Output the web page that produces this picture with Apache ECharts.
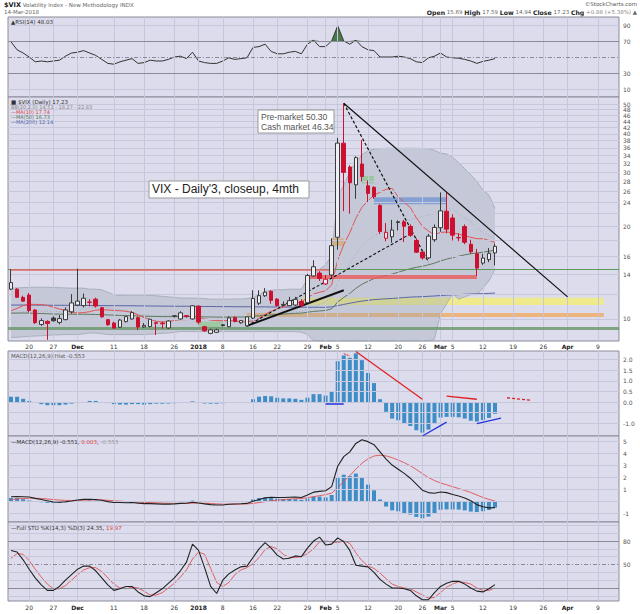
<!DOCTYPE html>
<html><head><meta charset="utf-8">
<script src="https://cdn.jsdelivr.net/npm/echarts/dist/echarts.min.js"></script>
<style>html,body{margin:0;padding:0;background:#fff}#c{width:640px;height:614px}</style>
</head><body><div id="c"></div>
<script>
const cats = ['2017-11-15','2017-11-16','2017-11-17','2017-11-20','2017-11-21','2017-11-22','2017-11-24','2017-11-27','2017-11-28','2017-11-29','2017-11-30','2017-12-01','2017-12-04','2017-12-05','2017-12-06','2017-12-07','2017-12-08','2017-12-11','2017-12-12','2017-12-13','2017-12-14','2017-12-15','2017-12-18','2017-12-19','2017-12-20','2017-12-21','2017-12-22','2017-12-26','2017-12-27','2017-12-28','2017-12-29','2018-01-02','2018-01-03','2018-01-04','2018-01-05','2018-01-08','2018-01-09','2018-01-10','2018-01-11','2018-01-12','2018-01-16','2018-01-17','2018-01-18','2018-01-19','2018-01-22','2018-01-23','2018-01-24','2018-01-25','2018-01-26','2018-01-29','2018-01-30','2018-01-31','2018-02-01','2018-02-02','2018-02-05','2018-02-06','2018-02-07','2018-02-08','2018-02-09','2018-02-12','2018-02-13','2018-02-14','2018-02-15','2018-02-16','2018-02-20','2018-02-21','2018-02-22','2018-02-23','2018-02-26','2018-02-27','2018-02-28','2018-03-01','2018-03-02','2018-03-05','2018-03-06','2018-03-07','2018-03-08','2018-03-09','2018-03-12','2018-03-13','2018-03-14','2018-03-15','2018-03-16','2018-03-19','2018-03-20','2018-03-21','2018-03-22','2018-03-23','2018-03-26','2018-03-27','2018-03-28','2018-03-29','2018-04-02','2018-04-03','2018-04-04','2018-04-05','2018-04-06','2018-04-09','2018-04-10','2018-04-11','2018-04-12'];
const tickDates = ['2017-11-20','2017-11-27','2017-12-01','2017-12-11','2017-12-18','2017-12-26','2018-01-02','2018-01-08','2018-01-16','2018-01-22','2018-01-29','2018-02-01','2018-02-05','2018-02-12','2018-02-20','2018-02-26','2018-03-01','2018-03-05','2018-03-12','2018-03-19','2018-03-26','2018-04-02','2018-04-09'];
const tickTexts = ['20','27','Dec','11','18','26','2018','8','16','22','29','Feb','5','12','20','26','Mar','5','12','19','26','Apr','9'];
const tickBold = ['Dec','2018','Feb','Mar','Apr'];

const opens = [12.5,12.5,11.75,11.96,10.7,9.6,9.82,10.07,9.75,9.95, 10.55,11.1,11.05,11.35,11.6,10.88,9.95,9.7,9.4,9.8, 10.0,10.1,9.42,9.45,9.72,9.7,9.35,10.2,10.0,10.25, 10.0,11.0,9.44,8.98,9.05,9.58,9.44,10.1,9.72,9.5, 10.07,11.25,11.9,12.3,11.6,11.15,11.05,11.1,11.4,11.3, 13.8,14.1,13.0,13.9,18.44,37.3,31.2,27.3,31.9,27.1, 26.8,23.4,18.3,18.5,20.7,20.7,20.0,18.0,16.5,15.8, 18.1,19.8,22.4,21.3,18.4,19.97,17.5,16.3,15.2,15.6, 16.4];
const highs = [14.51,12.6,11.9,12.15,10.75,10.05,9.9,10.2,10.3,10.9, 12.05,14.58,12.1,11.6,11.73,10.95,10.0,9.8,10.0,10.2, 10.6,10.2,9.7,10.0,9.8,9.8,9.9,10.3,10.6,10.3, 11.1,11.1,9.5,9.3,9.3,9.6,10.2,10.2,9.9,10.2, 12.4,12.4,12.6,12.4,11.7,11.4,11.8,11.8,11.6,14.0, 15.52,14.3,13.9,18.3,38.8,50.3,31.6,33.8,38.2,28.2, 27.0,23.6,20.5,21.0,20.9,21.0,20.3,18.3,16.6,18.9, 20.3,25.8,25.7,21.9,19.0,20.3,18.1,16.9,16.3,17.0, 17.59];
const lows = [12.4,11.7,11.4,10.5,9.63,9.5,8.56,9.8,9.6,9.9, 10.4,11.0,10.9,11.0,10.9,10.1,9.5,9.3,9.35,9.75, 9.95,9.2,9.35,9.4,8.87,9.3,9.3,10.1,9.95,10.1, 9.95,9.6,9.1,8.92,9.0,9.45,9.4,9.75,9.65,9.45, 10.0,11.1,11.8,11.2,11.0,11.0,11.0,11.0,10.9,11.3, 13.7,13.3,12.9,13.6,16.8,22.42,22.0,24.6,28.0,24.0, 24.6,18.9,17.9,17.7,19.4,17.8,18.5,16.4,15.6,15.7, 17.8,19.2,19.0,18.0,17.9,17.5,16.3,13.8,15.0,15.3, 14.94];
const closes = [13.13,11.76,11.43,10.65,9.73,9.88,9.67,9.87,10.03,10.70, 11.28,11.43,11.68,11.33,11.02,10.16,9.58,9.34,9.92,10.18, 10.49,9.42,9.53,9.98,9.68,9.65,9.85,10.25,10.47,10.18, 11.04,9.77,9.15,9.22,9.22,9.52,10.08,9.82,9.88,10.16, 11.66,11.91,12.22,11.5,11.03,11.10,11.47,11.58,11.08,13.84, 14.79,13.54,13.47,17.31,37.32,29.98,27.73,33.46,29.06,25.61, 24.97,19.26,19.13,19.46,20.60,20.02,18.72,16.49,15.80,18.59, 19.85,22.47,19.59,18.73,18.36,17.76,16.54,14.64,15.78,16.35, 17.23];

const ma10 = [10.64,10.82,11.05,11.17,11.15,11.15,11.06,10.92,10.77,10.68, 10.50,10.46,10.49,10.56,10.69,10.71,10.70,10.65,10.64,10.59, 10.51,10.31,10.10,9.96,9.83,9.78,9.80,9.89,9.95,9.95, 10.00,10.04,10.00,9.92,9.88,9.87,9.89,9.85,9.79,9.79, 9.85,10.06,10.37,10.60,10.78,10.94,11.08,11.25,11.37,11.74, 12.05,12.22,12.34,12.92,15.55,17.44,19.07,21.26,23.06,24.24, 25.26,25.83,26.40,26.61,24.94,23.94,23.04,21.34,20.02,19.32, 18.80,19.12,19.17,19.10,18.87,18.64,18.43,18.24,18.24,18.01, 17.74];
const ma50 = [10.45,10.45,10.46,10.45,10.43,10.42,10.40,10.38,10.37,10.36, 10.36,10.36,10.36,10.35,10.34,10.33,10.31,10.29,10.27,10.26, 10.25,10.23,10.21,10.20,10.19,10.18,10.18,10.18,10.18,10.18, 10.19,10.18,10.16,10.15,10.14,10.14,10.15,10.15,10.15,10.16, 10.20,10.24,10.28,10.31,10.34,10.37,10.40,10.43,10.45,10.52, 10.58,10.62,10.66,10.79,11.35,11.75,12.11,12.58,12.96,13.26, 13.53,13.69,13.84,14.00,14.19,14.39,14.57,14.72,14.83,15.00, 15.19,15.45,15.65,15.83,16.00,16.16,16.30,16.39,16.49,16.62, 16.73];
const ma200 = [11.10,11.10,11.10,11.10,11.09,11.09,11.09,11.08,11.08,11.08, 11.07,11.07,11.07,11.06,11.06,11.06,11.05,11.05,11.05,11.04, 11.04,11.03,11.03,11.02,11.02,11.01,11.01,11.00,11.00,11.00, 10.99,10.99,10.98,10.98,10.97,10.97,10.97,10.96,10.96,10.96, 10.95,10.95,10.95,10.94,10.94,10.94,10.93,10.93,10.93,10.92, 10.92,10.91,10.91,10.95,11.05,11.15,11.25,11.35,11.43,11.50, 11.56,11.60,11.63,11.66,11.70,11.74,11.78,11.80,11.82,11.85, 11.88,11.92,11.95,11.98,12.00,12.03,12.05,12.07,12.09,12.12, 12.14];
const bbMid = [10.45,10.5,10.55,10.6,10.6,10.6,10.6,10.58,10.56,10.55, 10.57,10.64,10.77,10.87,10.92,10.93,10.88,10.79,10.71,10.64, 10.51,10.39,10.30,10.26,10.26,10.25,10.25,10.27,10.30,10.27, 10.26,10.18,10.05,9.94,9.86,9.83,9.85,9.87,9.87,9.87, 9.93,10.05,10.19,10.26,10.33,10.41,10.49,10.55,10.58,10.77, 10.95,11.14,11.36,11.76,13.17,14.19,15.08,16.26,17.22,17.99, 18.66,19.03,19.37,19.77,20.25,20.69,21.06,21.30,21.54,21.78, 22.03,22.48,22.79,22.86,21.91,21.29,20.74,19.79,19.13,18.67, 18.27];
const bbUpper = [12.6,12.62,12.65,12.68,12.68,12.68,12.68,12.66,12.64,12.62, 12.6,12.6,12.6,12.5,12.5,12.45,12.2,12.0,11.9,11.95, 11.96,11.96,11.95,11.92,11.9,11.85,11.8,11.75,11.7,11.7, 11.7,11.68,11.65,11.6,11.6,11.6,11.6,11.62,11.62,11.65, 11.75,12.0,12.3,12.4,12.45,12.45,12.5,12.5,12.5,13.5, 14.0,14.5,15.0,16.1,25.1,27.2,30.1,32.3,34.2,35.2, 35.7,35.8,35.9,35.9,35.9,35.9,35.9,35.9,35.8,35.8, 35.4,34.6,34.4,33.6,32.2,30.8,29.4,28.0,26.3,25.3, 22.83];
const bbLower = [8.7,8.72,8.75,8.78,8.8,8.82,8.85,8.87,8.88,8.9, 8.9,8.9,8.95,9.0,9.0,8.95,8.9,8.9,8.9,8.9, 8.9,8.9,8.9,8.92,8.95,8.98,9.0,9.05,9.1,9.1, 9.1,9.1,9.1,9.1,9.1,9.1,9.1,9.1,9.1,9.1, 9.1,9.1,9.1,9.1,9.1,9.1,9.1,9.1,9.05,8.9, 8.5,8.3,8.0,7.4,5,5,5,5,5,5, 5,5,5,5,5,5,5,5,5,7.8, 8.6,10.4,11.2,12.1,11.6,11.8,12.0,12.0,12.6,13.3, 14.51];

const rsi = [69,59,55,50,44,45,44,45,46,51, 55,56,58,55,52,47,42,41,44,46, 48,42,43,46,45,45,47,50,51,48, 56,45,43,42,42,45,49,47,48,49, 62,63,66,57,54,54,56,57,54,66, 71,63,63,70,89,70,66,71,63,59, 58,50,50,50,51,50,48,44,43,49, 51,55,50,49,48.5,47,45,42,44.5,46, 48.03];
const hist = [0.25,0.25,0.15,0.05,-0.02,-0.1,-0.15,-0.15,-0.15,-0.12, -0.08,-0.03,0.0,0.05,0.05,0.0,-0.05,-0.1,-0.12,-0.12, -0.1,-0.1,-0.12,-0.1,-0.08,-0.08,-0.07,-0.06,-0.03,-0.03, 0.03,-0.02,-0.07,-0.08,-0.08,-0.06,-0.04,-0.03,-0.02,-0.01, 0.13,0.25,0.28,0.27,0.2,0.17,0.17,0.15,0.1,0.2, 0.37,0.37,0.3,0.5,1.92,2.19,2.08,2.29,1.97,1.37, 0.89,0.13,-0.46,-0.78,-0.86,-1.02,-1.13,-1.33,-1.44,-1.30, -1.02,-0.73,-0.70,-0.70,-0.72,-0.78,-0.88,-0.92,-0.85,-0.75, -0.553];
const macd = [0.36,0.37,0.36,0.33,0.22,0.12,0.02,-0.08,-0.1,-0.06, 0.0,0.08,0.14,0.15,0.13,0.06,-0.05,-0.13,-0.13,-0.14, -0.13,-0.18,-0.22,-0.22,-0.24,-0.26,-0.26,-0.24,-0.2,-0.19, -0.1,-0.16,-0.24,-0.3,-0.33,-0.33,-0.27,-0.25,-0.23,-0.2, -0.02,0.13,0.26,0.3,0.29,0.29,0.31,0.33,0.29,0.5, 0.74,0.8,0.85,1.2,2.9,3.7,4.1,4.8,5.1,4.95, 4.7,4.1,3.5,3.0,2.65,2.3,1.9,1.4,0.9,0.7, 0.65,0.75,0.7,0.55,0.42,0.25,0.02,-0.3,-0.48,-0.57, -0.551];
const signal = [0.12,0.17,0.21,0.23,0.23,0.21,0.17,0.12,0.08,0.05, 0.04,0.05,0.07,0.09,0.1,0.09,0.06,0.02,-0.01,-0.04, -0.06,-0.08,-0.11,-0.13,-0.15,-0.17,-0.19,-0.2,-0.2,-0.2, -0.18,-0.18,-0.19,-0.21,-0.24,-0.26,-0.26,-0.26,-0.25,-0.24, -0.2,-0.13,-0.05,0.02,0.07,0.12,0.16,0.19,0.21,0.27, 0.36,0.45,0.53,0.66,1.11,1.63,2.12,2.66,3.15,3.51, 3.75,3.82,3.76,3.61,3.42,3.2,2.94,2.63,2.28,1.96, 1.7,1.51,1.35,1.19,1.04,0.88,0.71,0.5,0.3,0.13, 0.003];
const stoK = [68,66,56,44,33,24,17,17,22,30, 37,44,48,48,42,33,24,17,19,22, 22,15,10,9,14,19,26,33,42,53, 76,68,46,22,13,30,38,43,47,48, 59,70,78,71,62,57,58,61,60,71, 80,85,75,76,84,79,68,49,48,47, 40,31,25,20,20,19,17,10,5,5, 14,22,26,28.5,28.5,25,20,16,15,19, 24.35];
const stoD = [58,64,63,55,44,34,25,19,19,23, 30,37,43,46,46,41,33,25,20,19, 21,20,16,11,11,14,20,26,34,43, 57,66,63,45,27,22,27,37,43,46, 51,59,69,73,70,63,59,59,60,64, 70,79,80,79,78,80,77,65,55,48, 45,39,32,25,22,20,19,15,11,7, 8,14,21,25,28,27,25,20,17,17, 19.97];

const rsiTicks = [10,30,50,70,90];
const rsiHidden = [50];
const mainTicks = [10,12,14,16,18,20,22,24,26,28,30,32,34,36,38,40,42,44,46,48,50];
const mainHidden = [12,18,22];
const histTicks = [-1.0,-0.5,0,0.5,1.0,1.5,2.0];
const histHidden = [-0.5];
const macdTicks = [-1,0,1,2,3,4,5];
const macdHidden = [0];
const stoTicks = [10,20,30,40,50,60,70,80,90,100];
const stoShown = [50,80];

// ---------- styling / layout ----------
const FONT = 'DejaVu Sans';
const BG = '#dcdcec';
const GRIDC = '#c6c6dc';
const L = 8, W = 611;
const MAIN_MIN = 8.48, MAIN_MAX = 52.7;
const clampM = v => Math.min(MAIN_MAX, Math.max(MAIN_MIN, v));

const grids = [
  {left:L, width:W, top:17, height:80},
  {left:L, width:W, top:97, height:244},
  {left:L, width:W, top:351, height:85},
  {left:L, width:W, top:436, height:86},
  {left:L, width:W, top:522, height:79}
].map(g => Object.assign(g, {show:true, backgroundColor:BG, borderColor:'#8a8a99', borderWidth:1}));

const yRanges = [[0,100],[MAIN_MIN,MAIN_MAX],[-1.6,2.4],[-1.75,5.42],[3.4,104.3]];

const xAxes = grids.map((g,i)=>({
  type:'category', gridIndex:i, data:cats, boundaryGap:true,
  axisLine:{show:false}, axisTick:{show:false}, splitLine:{show:false},
  axisLabel:{
    show: i===1 || i===4,
    interval:(idx, val)=> tickDates.indexOf(val) >= 0,
    formatter: val => { const k = tickDates.indexOf(val); if (k<0) return ''; const t = tickTexts[k]; return tickBold.indexOf(t)>=0 ? '{b|'+t+'}' : t; },
    rich:{b:{fontWeight:'bold', fontSize:6, fontFamily:FONT, color:'#222'}},
    fontSize:6, fontFamily:FONT, color:'#333', margin: i===1 ? 2 : 3
  }
}));
const yAxes = grids.map((g,i)=>({
  type: i===1 ? 'log' : 'value', gridIndex:i, position:'right',
  min:yRanges[i][0], max:yRanges[i][1],
  axisLine:{show:false}, axisTick:{show:false}, axisLabel:{show:false}, splitLine:{show:false}
}));

function hLine(v, txt, color, width, type){
  return {yAxis:v, lineStyle:{color:color, width:width, type:type||'solid'},
    label:{show: txt!=='' , formatter: txt, position:'end', distance:4, color:'#555', fontSize:6, fontFamily:FONT}};
}
function vLines(){
  return tickDates.map(d=>({xAxis:d, lineStyle:{color:GRIDC, width:1, type:'solid'}, label:{show:false}}));
}
function helper(gi, hl){
  return {type:'line', xAxisIndex:gi, yAxisIndex:gi, data:[], silent:true, z:1,
    markLine:{silent:true, symbol:['none','none'], animation:false, data: vLines().concat(hl)}};
}
function tag(v, txt, border, color, bold, dy){
  return {yAxis:v, lineStyle:{opacity:0, width:0},
    label:{show:true, position:'end', distance:2, offset:[0, dy||0], formatter:txt, backgroundColor:'#fff', borderColor:border, borderWidth:0.8,
      padding:[0,1,0,1], lineHeight:4.6, color:color, fontSize:5, fontWeight: bold?'bold':'normal', fontFamily:FONT}};
}
function tagSeries(gi, tags){
  return {type:'line', xAxisIndex:gi, yAxisIndex:gi, data:[], silent:true, z:20,
    markLine:{silent:true, symbol:['none','none'], animation:false, data:tags}};
}
function seg(a, b, color, width, type){
  return [{coord:a, lineStyle:{color:color, width:width, type:type||'solid'}}, {coord:b}];
}
function box(a, b, color){
  return [{coord:a, itemStyle:{color:color}}, {coord:b}];
}
function line(gi, data, color, width, z, type){
  return {type:'line', xAxisIndex:gi, yAxisIndex:gi, data:data, showSymbol:false, silent:true, z:z||4,
    lineStyle:{color:color, width:width, type:type||'solid'}};
}

const rsiH = rsiTicks.map(v => hLine(v, rsiHidden.indexOf(v)>=0 ? '' : String(v), (v===30||v===70||v===50)?'#8a8a9a':GRIDC, 1, v===50?[4,2,1,2]:'solid'));
const mainH = mainTicks.map(v => hLine(v, mainHidden.indexOf(v)>=0 ? '' : String(v), GRIDC, 1));
const histH = histTicks.map(v => hLine(v, histHidden.indexOf(v)>=0 ? '' : v.toFixed(1), GRIDC, 1));
const macdH = macdTicks.map(v => hLine(v, macdHidden.indexOf(v)>=0 ? '' : String(v), GRIDC, 1));
const stoH = stoTicks.map(v => hLine(v, stoShown.indexOf(v)>=0 ? String(v) : '', (v===20||v===80||v===50)?'#8a8a9a':GRIDC, 1, v===50?[4,2,1,2]:'solid'));

const candleData = closes.map((c,i)=>{
  const o = opens[i];
  const red = i>0 && c < closes[i-1];
  const col = red ? '#cc1030' : '#3a3a3a';
  const fill = c > o ? '#eeeef4' : col;
  return {value:[o, c, lows[i], highs[i]], itemStyle:{color:fill, color0:fill, borderColor:col, borderColor0:col, borderWidth:1}};
});

const series = [
  helper(0, rsiH),
  {type:'line', xAxisIndex:0, yAxisIndex:0, data: rsi.map(v=>Math.max(v,70)), showSymbol:false, silent:true, z:3,
    lineStyle:{width:0, opacity:0}, areaStyle:{origin:70, color:'#4a7a4c', opacity:1}},
  line(0, rsi, '#333', 1, 4),
  tagSeries(0, [tag(48.03, '48.03', '#777', '#333')]),

  helper(1, mainH),
  {type:'custom', xAxisIndex:1, yAxisIndex:1, data:[[0,10]], silent:true, z:2, clip:true,
    renderItem:(p, api)=>{
      const pts = [];
      for (let i=0;i<bbUpper.length;i++) pts.push(api.coord([i, clampM(bbUpper[i])]));
      for (let i=bbLower.length-1;i>=0;i--) pts.push(api.coord([i, clampM(bbLower[i])]));
      return {type:'polygon', shape:{points:pts}, style:{fill:'rgba(150,162,172,0.33)', stroke:'none'}};
    }},
  line(1, bbUpper.map(clampM), '#9ea8b2', 0.8, 3),
  line(1, bbLower.map(clampM), '#9ea8b2', 0.8, 3),
  line(1, bbMid, '#97a1ab', 0.7, 3, [1,2]),
  {type:'line', xAxisIndex:1, yAxisIndex:1, data:[], silent:true, z:3,
    markArea:{silent:true, animation:false, data:[
      box(['2018-01-26', 11.73], ['2018-04-10', 11.1], 'rgba(245,240,110,0.75)'),
      box(['2018-01-12', 10.46], ['2018-04-10', 10.15], 'rgba(242,168,90,0.75)')
    ]},
    markLine:{silent:true, symbol:['none','none'], animation:false, data:[
      {yAxis:14.51, lineStyle:{color:'#5c9a5c', width:1.2, type:'solid'}, label:{show:false}},
      {yAxis:9.35, lineStyle:{color:'rgba(105,150,105,0.8)', width:3, type:'solid'}, label:{show:false}},
      seg(['2017-11-15', 14.51], ['2018-02-02', 14.51], '#e86a6a', 1.5),
      seg(['2018-01-29', 13.75], ['2018-03-09', 13.75], 'rgba(235,90,90,0.8)', 4)
    ]}},
  line(1, ma200, '#5a66a8', 1, 4),
  line(1, ma50, '#5e7a5e', 1, 4),
  line(1, ma10, '#e05555', 1, 4),
  {type:'candlestick', xAxisIndex:1, yAxisIndex:1, data:candleData, barWidth:4, z:5, silent:true},
  {type:'line', xAxisIndex:1, yAxisIndex:1, data:[], silent:true, z:6,
    markArea:{silent:true, animation:false, data:[
      box(['2018-02-09', 29.2], ['2018-02-13', 27.6], 'rgba(130,215,120,0.7)'),
      box(['2018-02-02', 18.3], ['2018-02-06', 17.3], 'rgba(245,170,70,0.7)'),
      box(['2018-02-13', 24.9], ['2018-03-02', 23.6], 'rgba(90,140,230,0.72)'),
      box(['2018-01-02', 9.8], ['2018-01-08', 9.35], 'rgba(140,220,130,0.7)')
    ]},
    markLine:{silent:true, symbol:['none','none'], animation:false, data:[
      seg(['2018-02-06', 50.3], ['2018-04-02', 11.8], '#111', 1.2),
      seg(['2018-02-06', 50.3], ['2018-02-27', 15.3], '#111', 1.2, [3,2]),
      seg(['2018-01-12', 9.5], ['2018-02-22', 18.9], '#111', 1.1, [3,2]),
      seg(['2018-01-12', 9.5], ['2018-02-06', 12.4], '#111', 2)
    ]}},
  tagSeries(1, [
    tag(22.83, '22.83', '#888', '#444'),
    tag(18.27, '18.27', '#888', '#444', false, -6.2),
    tag(17.74, '17.74', '#d44', '#444', false, -4.8),
    tag(17.23, '17.23', '#111', '#111', true, -3.4),
    tag(16.73, '16.73', '#575', '#444', false, -2.0),
    tag(14.51, '14.51', '#777', '#444', false, -0.5),
    tag(12.14, '12.14', '#56a', '#444')
  ]),

  helper(2, histH),
  {type:'bar', xAxisIndex:2, yAxisIndex:2, data:hist, barWidth:4, silent:true, z:3, itemStyle:{color:'#3f8dc6'}},
  {type:'line', xAxisIndex:2, yAxisIndex:2, data:[], silent:true, z:6,
    markLine:{silent:true, symbol:['none','none'], animation:false, data:[
      seg(['2018-02-01', -0.1], ['2018-02-06', -0.1], '#2233dd', 1.5),
      seg(['2018-02-06', 2.27], ['2018-02-07', 2.17], '#e02020', 1, [2,1]),
      seg(['2018-02-08', 2.38], ['2018-02-26', 0.13], '#e02020', 1.2),
      seg(['2018-02-26', -1.6], ['2018-03-02', -0.95], '#2233dd', 1.3),
      seg(['2018-03-02', 0.28], ['2018-03-09', 0.13], '#e02020', 1.3),
      seg(['2018-03-09', -1.02], ['2018-03-15', -0.76], '#2233dd', 1.3),
      seg(['2018-03-16', 0.2], ['2018-03-22', 0.08], '#e02020', 1.3, [3,2])
    ]}},
  tagSeries(2, [tag(-0.553, '-0.553', '#777', '#444')]),

  helper(3, macdH),
  {type:'bar', xAxisIndex:3, yAxisIndex:3, data:hist, barWidth:4, silent:true, z:3, itemStyle:{color:'#3f8dc6'}},
  line(3, signal, '#e25050', 0.9, 4),
  line(3, macd, '#222', 1.1, 5),
  tagSeries(3, [tag(0.003, '0.003', '#d44', '#d44', false, -1.5), tag(-0.551, '-0.551', '#222', '#222', false, -0.8)]),

  helper(4, stoH),
  line(4, stoD, '#e25050', 0.9, 4),
  line(4, stoK, '#222', 1.1, 5),
  tagSeries(4, [tag(24.35, '24.35', '#222', '#222', false, -1.5), tag(19.97, '19.97', '#d44', '#d44', false, 1.5)])
];

function txt(left, top, text, size, color, rich, extra){
  return Object.assign({type:'text', left:left, top:top, z:100, silent:true,
    style:{text:text, fontSize:size, fill:color, fontFamily:FONT, rich:rich||{}}}, extra||{});
}
const boldR = {b:{fontWeight:'bold', fontSize:6.5, fill:'#222', fontFamily:FONT}};
const graphic = [
  txt(4, 1, '{b|$VIX} Volatility Index - New Methodology INDX', 5.5, '#666', boldR),
  txt(4, 9, '14-Mar-2018', 5.5, '#666'),
  {type:'text', right:3, top:1, z:100, silent:true, style:{text:'©StockCharts.com', fontSize:5.5, fill:'#555', fontFamily:FONT}},
  {type:'text', right:3, top:9, z:100, silent:true, style:{text:'{b|Open} 15.69 {b|High} 17.59 {b|Low} 14.94 {b|Close} 17.23 {b|Chg} {g|+0.88 (+5.38%)} ▲', fontSize:5.5, fill:'#666', fontFamily:FONT,
    rich:{b:{fontWeight:'bold', fontSize:6.2, fill:'#222', fontFamily:FONT}, g:{fill:'#888', fontSize:5.5, fontFamily:FONT}}}},
  txt(11, 19, '▲RSI(14) 48.03', 5.5, '#333'),
  txt(11, 99, '■ $VIX (Daily) 17.23', 5.5, '#333'),
  txt(11, 104.5, 'BB(20,2.0) 14.51 - 18.27 - 22.83', 5, '#888'),
  txt(11, 109.5, '—MA(10) 17.74', 5, '#d44'),
  txt(11, 114.5, '—MA(50) 16.73', 5, '#575'),
  txt(11, 119.5, '—MA(200) 12.14', 5, '#56a'),
  txt(11, 353, 'MACD(12,26,9) Hist -0.553', 5.5, '#555'),
  txt(11, 439, '—MACD(12,26,9) -0.551, {r|0.003}, {g|-0.553}', 5.5, '#333', {r:{fill:'#d44', fontSize:5.5, fontFamily:FONT}, g:{fill:'#999', fontSize:5.5, fontFamily:FONT}}),
  txt(11, 525, '—Full STO %K(14,3) %D(3) 24.35, {r|19.97}', 5.5, '#333', {r:{fill:'#d44', fontSize:5.5, fontFamily:FONT}}),
  {type:'rect', z:100, silent:true, shape:{x:258, y:110, width:76, height:23}, style:{fill:'#fff', stroke:'#999', lineWidth:1}},
  txt(261, 111.5, '', 8.6, '#555', null, {style:{text:'Pre-market 50.30\nCash market 46.34', fontSize:8.6, lineHeight:10.3, fill:'#555', fontFamily:'Liberation Sans'}}),
  {type:'rect', z:100, silent:true, shape:{x:149, y:181, width:160, height:17}, style:{fill:'#fff', stroke:'#999', lineWidth:1}},
  txt(152, 182.5, '', 12, '#222', null, {style:{text:"VIX - Daily'3, closeup, 4mth", fontSize:12, fill:'#222', fontFamily:'Liberation Sans'}})
];

const chart = echarts.init(document.getElementById('c'), null, {renderer:'svg', width:640, height:614});
chart.setOption({
  animation:false, backgroundColor:'#fff',
  grid:grids, xAxis:xAxes, yAxis:yAxes, series:series, graphic:graphic
});
</script></body></html>
